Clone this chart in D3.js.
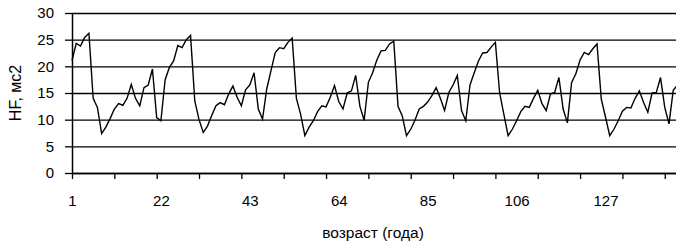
<!DOCTYPE html>
<html>
<head>
<meta charset="utf-8">
<script src="https://cdn.jsdelivr.net/npm/d3@7"></script>
<style>
  body { margin: 0; background: #fff; }
  svg { display: block; }
  text { font-family: "Liberation Sans", Arial, sans-serif; fill: #000; }
</style>
</head>
<body>
<div id="chart"></div>
<script>
// HF values, one per category (1..144)
var hfValues = [
  21.1, 24.3, 23.8, 25.4, 26.2, 14.0, 12.3, 7.4, 8.6, 10.2,
  12.0, 13.0, 12.7, 14.0, 16.6, 14.0, 12.6, 16.0, 16.5, 19.5,
  10.4, 9.8, 17.5, 19.8, 21.0, 23.9, 23.5, 25.0, 25.8, 13.5,
  10.0, 7.6, 8.8, 10.8, 12.6, 13.2, 12.8, 14.8, 16.3, 14.2,
  12.6, 15.6, 16.5, 18.8, 12.0, 10.1, 15.8, 19.2, 22.6, 23.5,
  23.3, 24.5, 25.3, 14.0, 11.0, 7.0, 8.6, 9.8, 11.5, 12.6,
  12.4, 14.2, 16.4, 13.4, 12.0, 15.0, 15.4, 18.3, 12.5, 9.9,
  17.0, 18.8, 21.2, 22.9, 23.0, 24.2, 24.7, 12.5, 10.7, 7.0,
  8.2, 9.9, 12.0, 12.5, 13.3, 14.5, 16.0, 14.0, 11.7, 15.1,
  16.5, 18.3, 11.7, 9.8, 16.5, 18.8, 21.0, 22.5, 22.6, 23.6,
  24.5, 15.0, 11.0, 7.0, 8.2, 9.8, 11.5, 12.5, 12.3, 14.0,
  15.5, 13.0, 11.7, 14.8, 15.1, 17.9, 12.0, 9.4, 17.0, 18.6,
  21.2, 22.6, 22.2, 23.3, 24.2, 13.9, 10.5, 7.0, 8.2, 9.8,
  11.6, 12.3, 12.2, 14.0, 15.4, 13.2, 11.4, 15.0, 15.1, 17.9,
  12.3, 9.2, 15.5, 16.5
];
var xTickMarks = [1, 11, 21, 31, 41, 51, 61, 71, 81, 91, 101, 111, 121, 131, 141];
var xTickLabels = [1, 22, 43, 64, 85, 106, 127];
var yTicks = [0, 5, 10, 15, 20, 25, 30];

var svgWidth = 676;
var svgHeight = 247;

// plot area
var plotLeft = 72, plotTop = 13, plotBottom = 173;
var step = 4.234;   // pixels per category

var svg = d3.select("#chart")
  .append("svg")
  .attr("width", svgWidth)
  .attr("height", svgHeight);

var xScale = d3.scaleLinear()
  .domain([1, hfValues.length])
  .range([plotLeft, plotLeft + step * (hfValues.length - 1)]);

var yScale = d3.scaleLinear()
  .domain([0, 30])
  .range([plotBottom, plotTop]);

// gridlines
svg.append("g")
  .attr("transform", `translate(${plotLeft}, 0)`)
  .call(d3.axisLeft(yScale).tickValues(yTicks).tickSize(-(svgWidth - plotLeft + 5)).tickFormat(""))
  .call(g => g.select(".domain").remove())
  .selectAll("line")
  .attr("stroke", "#000")
  .attr("stroke-width", 1.3);

// y axis with outside ticks
var yAxis = svg.append("g")
  .attr("transform", `translate(${plotLeft}, 0)`)
  .call(d3.axisLeft(yScale).tickValues(yTicks).tickSize(7).tickSizeOuter(0).tickPadding(11));
yAxis.select(".domain").attr("stroke-width", 1.5);
yAxis.selectAll("line").attr("stroke-width", 1.3);
yAxis.selectAll("text")
  .style("font-size", "15px")
  .style("font-family", "'Liberation Sans', Arial, sans-serif");

// x axis tick marks
var xAxis = svg.append("g")
  .attr("transform", `translate(0, ${plotBottom})`)
  .call(d3.axisBottom(xScale).tickValues(xTickMarks).tickSize(6).tickSizeOuter(0).tickFormat(""));
xAxis.select(".domain").attr("d", `M${plotLeft},0.5H${svgWidth + 5}`).attr("stroke-width", 1.3);
xAxis.selectAll("line").attr("stroke-width", 1.3);

// x axis labels
var xLabels = svg.append("g")
  .attr("transform", `translate(0, ${plotBottom})`)
  .call(d3.axisBottom(xScale).tickValues(xTickLabels).tickSize(0).tickPadding(22));
xLabels.select(".domain").remove();
xLabels.selectAll("text")
  .style("font-size", "15px")
  .style("font-family", "'Liberation Sans', Arial, sans-serif");

// line
var line = d3.line()
  .x((d, i) => xScale(i + 1))
  .y(d => yScale(d));

svg.append("path")
  .datum(hfValues)
  .attr("fill", "none")
  .attr("stroke", "#000")
  .attr("stroke-width", 1.4)
  .attr("stroke-linejoin", "miter")
  .attr("d", line);

// axis titles
svg.append("text")
  .attr("x", 373)
  .attr("y", 238)
  .attr("text-anchor", "middle")
  .style("font-size", "15.5px")
  .text("возраст (года)");

svg.append("text")
  .attr("transform", "rotate(-90)")
  .attr("x", -93)
  .attr("y", 21)
  .attr("text-anchor", "middle")
  .style("font-size", "16px")
  .text("HF, мс2");
</script>
</body>
</html>
